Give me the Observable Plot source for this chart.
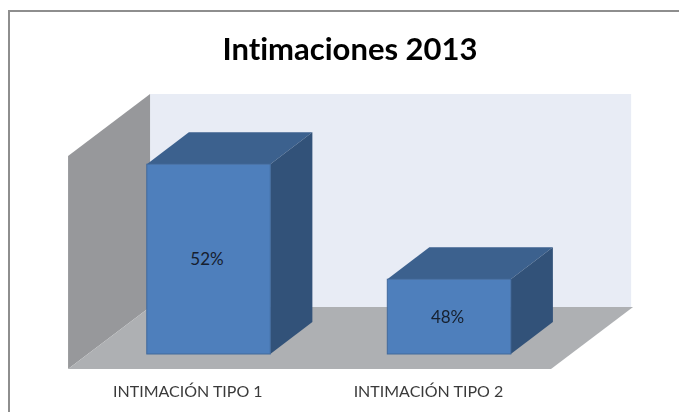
<!DOCTYPE html>
<html>
<head>
<meta charset="utf-8">
<script src="https://cdn.jsdelivr.net/npm/d3@7"></script>
<script src="https://cdn.jsdelivr.net/npm/@observablehq/plot@0.6"></script>
<style>
  html, body { margin: 0; padding: 0; background: #fff; }
  #chart { position: relative; width: 679px; height: 412px; overflow: hidden; }
  #border { position: absolute; left: 8px; top: 10px; right: 0; bottom: 0; border-left: 2px solid #8e8e8e; border-top: 2px solid #8e8e8e; }
  #chart svg { position: absolute; left: 0; top: 0; filter: blur(0.45px); }
  #chart svg text { font-variant-ligatures: none; }
</style>
</head>
<body>
<div id="chart"><div id="border"></div></div>
<script>
const title = "Intimaciones 2013";
const categories = ["INTIMACIÓN TIPO 1", "INTIMACIÓN TIPO 2"];
const positions = [0, 1];
const values = [52, 48];
const valueLabels = ["52%", "48%"];

// Axis frame, in data units (x: category index, y: percent)
const yBase = 45.4;
const yFloorFront = 44.878, yFloorBack = 47.03, yWallTop = 54.44;
const xWallFront = -0.584, xWallBack = -0.243, xFloorFrontEnd = 1.424, xFloorBackEnd = 1.757;
const barWidth = 0.5135, depthX = 0.175, depthY = 1.113, labelShift = 0.088;

const colors = {
  wall: "#e8ecf5", side: "#97989b", floor: "#aeb0b3",
  front: "#4e7fbc", top: "#3c618e", right: "#325279", edge: "#41699c"
};

// A sheared horizontal face (floor, bar top) as an area
function shearH(x0, x1, y, dx, dy) {
  return [
    {x: x0, y1: y, y2: y},
    {x: x0 + dx, y1: y, y2: y + dy},
    {x: x1, y1: y, y2: y + dy},
    {x: x1 + dx, y1: y + dy, y2: y + dy}
  ];
}
// A sheared vertical face (side wall, bar side) as an area
function shearV(x, yLow, yHigh, dx, dy) {
  return [
    {x, y1: yLow, y2: yHigh},
    {x: x + dx, y1: yLow + dy, y2: yHigh + dy}
  ];
}
const face = (pts, fill) => Plot.areaY(pts, {x: "x", y1: "y1", y2: "y2", fill, curve: "linear"});

const bars = categories.map((c, i) => ({
  c, i, v: values[i], label: valueLabels[i],
  x1: positions[i] - barWidth / 2, x2: positions[i] + barWidth / 2
}));

const plot = Plot.plot({
  width: 679, height: 412,
  marginTop: 0, marginRight: 0, marginBottom: 43, marginLeft: 0,
  style: {background: "transparent", overflow: "visible"},
  x: {domain: [-0.867, 1.956], axis: null},
  y: {domain: [yFloorFront, 57.71], axis: null},
  marks: [
    Plot.rect([0], {x1: xWallBack, x2: xFloorBackEnd, y1: yFloorBack, y2: yWallTop, fill: colors.wall}),
    face(shearV(xWallFront, yFloorFront, yWallTop - (yFloorBack - yFloorFront), xWallBack - xWallFront, yFloorBack - yFloorFront), colors.side),
    face(shearH(xWallFront, xFloorFrontEnd, yFloorFront, xWallBack - xWallFront, yFloorBack - yFloorFront), colors.floor),
    ...bars.flatMap(b => [
      face(shearH(b.x1, b.x2, b.v, depthX, depthY), colors.top),
      face(shearV(b.x2, yBase, b.v, depthX, depthY), colors.right),
    ]),
    Plot.rect(bars, {x1: "x1", x2: "x2", y1: yBase, y2: "v", fill: colors.front, stroke: colors.edge, strokeWidth: 1}),
    Plot.text(bars, {
      x: "i", y: d => (yBase + d.v) / 2, text: "label", dx: -2,
      fill: "#16202e", fontSize: 17, fontFamily: "Lato, 'Open Sans', sans-serif"
    }),
    Plot.axisX(positions.map(p => p - labelShift), {
      anchor: "bottom", tickSize: 0, tickPadding: 16,
      tickFormat: (d, i) => categories[i],
      fontSize: 16, fontFamily: "Lato, 'Open Sans', sans-serif",
      fill: "#3a3a3a", label: null
    }),
    Plot.text([title], {
      frameAnchor: "top", dx: 10, dy: 37, text: d => d,
      fontSize: 31, fontWeight: "bold", fill: "#000",
      fontFamily: "Lato, 'Open Sans', sans-serif"
    })
  ]
});
document.getElementById("chart").appendChild(plot);
</script>
</body>
</html>
